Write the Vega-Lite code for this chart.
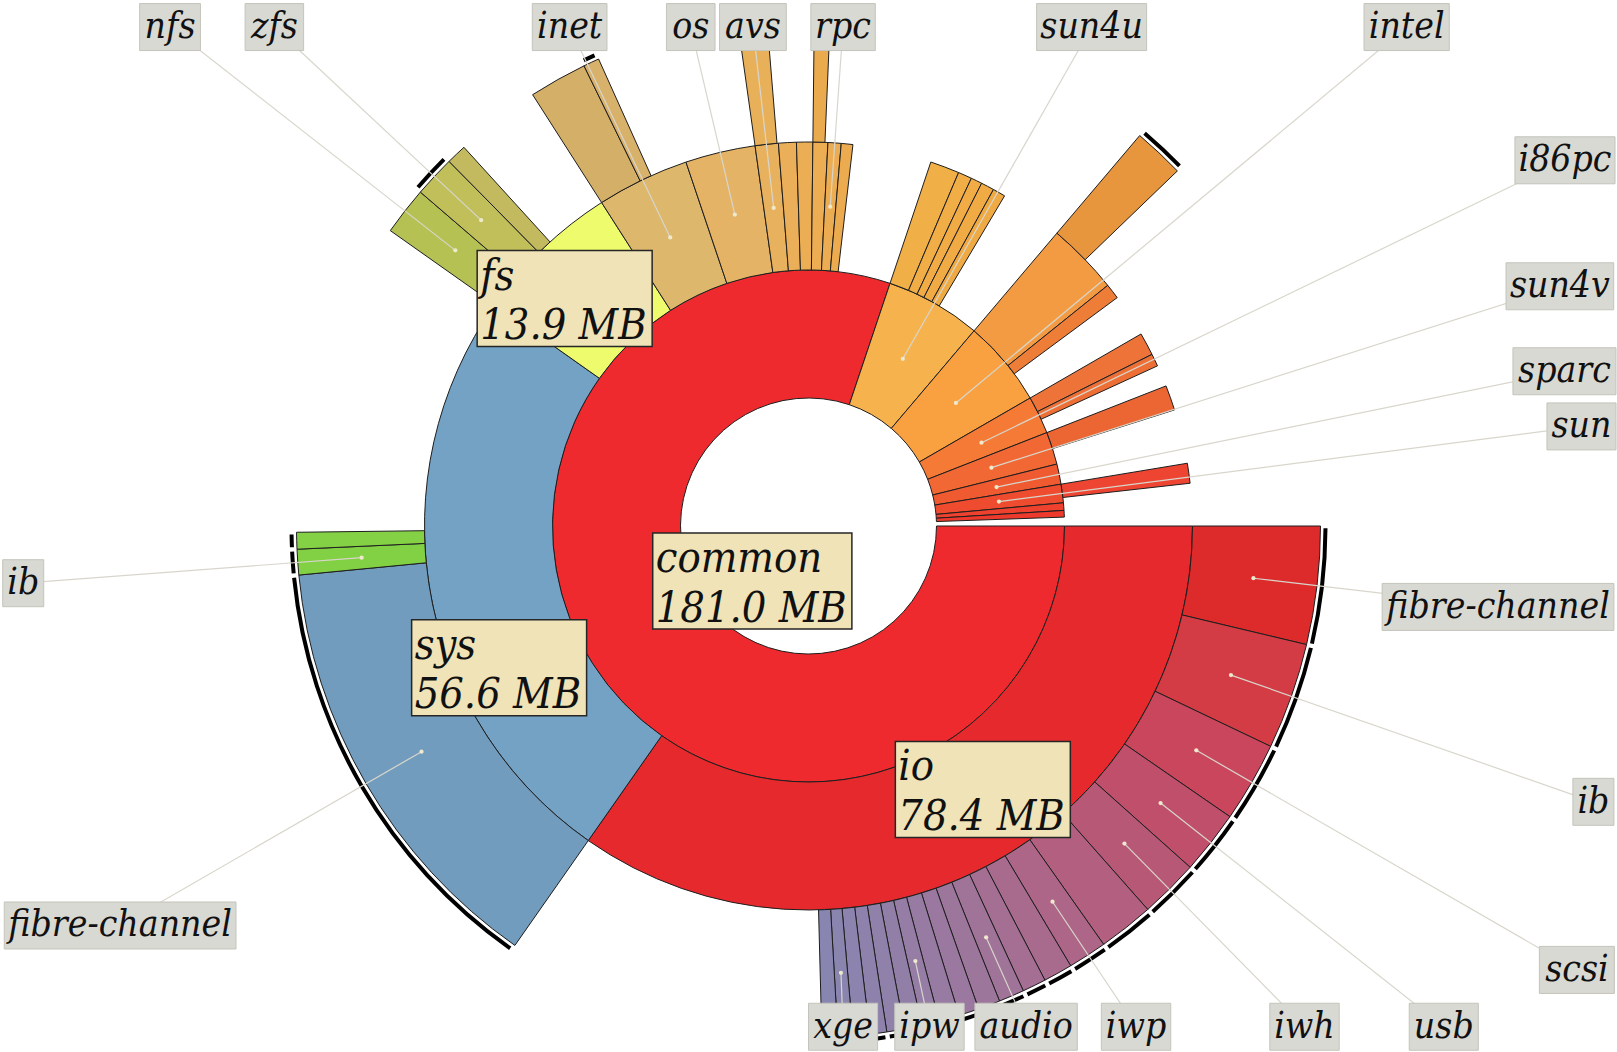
{
  "$schema": "https://vega.github.io/schema/vega-lite/v6.json",
  "width": 1617,
  "height": 1052,
  "autosize": {"type": "none"},
  "padding": 0,
  "background": "white",
  "config": {"view": {"stroke": null}},
  "datasets": {
    "seg": [
      {"id": "common", "depth": 1, "start": 0, "end": 181.0},
      {"id": "sun4u", "depth": 1, "start": 181.0, "end": 194.63},
      {"id": "intel", "depth": 1, "start": 194.63, "end": 206.98},
      {"id": "i86pc", "depth": 1, "start": 206.98, "end": 212.38},
      {"id": "sun4v", "depth": 1, "start": 212.38, "end": 217.02},
      {"id": "sparc", "depth": 1, "start": 217.02, "end": 219.90},
      {"id": "sun", "depth": 1, "start": 219.90, "end": 222.54},
      {"id": "uts/x1", "depth": 1, "start": 222.54, "end": 223.61},
      {"id": "uts/x2", "depth": 1, "start": 223.61, "end": 224.55},
      {"id": "io", "depth": 2, "start": 0, "end": 78.4},
      {"id": "sys", "depth": 2, "start": 78.4, "end": 135.0},
      {"id": "fs", "depth": 2, "start": 135.0, "end": 148.9},
      {"id": "inet", "depth": 2, "start": 148.9, "end": 157.68},
      {"id": "os", "depth": 2, "start": 157.68, "end": 164.33},
      {"id": "avs", "depth": 2, "start": 164.33, "end": 166.53},
      {"id": "common/c1", "depth": 2, "start": 166.53, "end": 168.22},
      {"id": "common/c2", "depth": 2, "start": 168.22, "end": 169.76},
      {"id": "common/c3", "depth": 2, "start": 169.76, "end": 171.17},
      {"id": "rpc", "depth": 2, "start": 171.17, "end": 172.42},
      {"id": "common/c4", "depth": 2, "start": 172.42, "end": 173.52},
      {"id": "sun4u/a", "depth": 2, "start": 181.0, "end": 183.78},
      {"id": "sun4u/b", "depth": 2, "start": 183.78, "end": 185.09},
      {"id": "sun4u/c", "depth": 2, "start": 185.09, "end": 186.16},
      {"id": "sun4u/d", "depth": 2, "start": 186.16, "end": 187.41},
      {"id": "sun4u/e", "depth": 2, "start": 187.41, "end": 188.61},
      {"id": "intel/a", "depth": 2, "start": 194.63, "end": 201.46},
      {"id": "intel/b", "depth": 2, "start": 201.46, "end": 202.91},
      {"id": "i86pc/a", "depth": 2, "start": 206.98, "end": 209.15},
      {"id": "i86pc/b", "depth": 2, "start": 209.15, "end": 210.34},
      {"id": "sun4v/a", "depth": 2, "start": 212.38, "end": 214.76},
      {"id": "sun/a", "depth": 2, "start": 219.90, "end": 221.79},
      {"id": "io/fc", "depth": 3, "start": 0, "end": 8.40, "more": 1},
      {"id": "io/ib", "depth": 3, "start": 8.40, "end": 15.99, "more": 1},
      {"id": "io/scsi", "depth": 3, "start": 15.99, "end": 21.70, "more": 1},
      {"id": "io/usb", "depth": 3, "start": 21.70, "end": 26.22, "more": 1},
      {"id": "io/iwh", "depth": 3, "start": 26.22, "end": 30.42, "more": 1},
      {"id": "io/u1", "depth": 3, "start": 30.42, "end": 34.37, "more": 1},
      {"id": "io/iwp", "depth": 3, "start": 34.37, "end": 37.13, "more": 1},
      {"id": "io/u2", "depth": 3, "start": 37.13, "end": 39.20, "more": 1},
      {"id": "io/u3", "depth": 3, "start": 39.20, "end": 40.89, "more": 1},
      {"id": "io/audio", "depth": 3, "start": 40.89, "end": 42.71, "more": 1},
      {"id": "io/u4", "depth": 3, "start": 42.71, "end": 44.28, "more": 1},
      {"id": "io/u5", "depth": 3, "start": 44.28, "end": 45.72, "more": 1},
      {"id": "io/u6", "depth": 3, "start": 45.72, "end": 47.17, "more": 1},
      {"id": "io/ipw", "depth": 3, "start": 47.17, "end": 48.42, "more": 1},
      {"id": "io/u7", "depth": 3, "start": 48.42, "end": 49.68, "more": 1},
      {"id": "io/u8", "depth": 3, "start": 49.68, "end": 50.93, "more": 1},
      {"id": "io/u9", "depth": 3, "start": 50.93, "end": 52.12, "more": 1},
      {"id": "io/u10", "depth": 3, "start": 52.12, "end": 53.31, "more": 1},
      {"id": "io/xge", "depth": 3, "start": 53.31, "end": 54.38, "more": 1},
      {"id": "io/u11", "depth": 3, "start": 54.38, "end": 55.51, "more": 1},
      {"id": "sys/fc", "depth": 3, "start": 78.4, "end": 109.45, "more": 1},
      {"id": "sys/ib", "depth": 3, "start": 109.45, "end": 111.27, "more": 1},
      {"id": "sys/ib2", "depth": 3, "start": 111.27, "end": 112.46, "more": 1},
      {"id": "fs/nfs", "depth": 3, "start": 135.0, "end": 138.43},
      {"id": "fs/zfs", "depth": 3, "start": 138.43, "end": 141.38, "more": 1},
      {"id": "fs/f3", "depth": 3, "start": 141.38, "end": 142.82},
      {"id": "inet/a", "depth": 3, "start": 148.9, "end": 153.04},
      {"id": "inet/b", "depth": 3, "start": 153.04, "end": 154.17, "more": 1},
      {"id": "avs/a", "depth": 3, "start": 164.33, "end": 166.40},
      {"id": "c3/a", "depth": 3, "start": 169.76, "end": 170.89},
      {"id": "intel/a/x", "depth": 3, "start": 194.63, "end": 198.26, "more": 1}
    ],
    "lab": [
      {"t": "nfs", "id": "fs/nfs", "lx": -4.988, "ly": 3.898},
      {"t": "zfs", "id": "fs/zfs", "lx": -4.173, "ly": 3.898},
      {"t": "inet", "id": "inet", "lx": -1.866, "ly": 3.898},
      {"t": "os", "id": "os", "lx": -0.920, "ly": 3.898},
      {"t": "avs", "id": "avs", "lx": -0.434, "ly": 3.898},
      {"t": "rpc", "id": "rpc", "lx": 0.270, "ly": 3.898},
      {"t": "sun4u", "id": "sun4u", "lx": 2.212, "ly": 3.898},
      {"t": "intel", "id": "intel", "lx": 4.673, "ly": 3.898},
      {"t": "i86pc", "id": "i86pc", "lx": 5.910, "ly": 2.857},
      {"t": "sun4v", "id": "sun4v", "lx": 5.870, "ly": 1.873},
      {"t": "sparc", "id": "sparc", "lx": 5.906, "ly": 1.209},
      {"t": "sun", "id": "sun", "lx": 6.039, "ly": 0.778},
      {"t": "fibre-channel", "id": "io/fc", "lx": 5.387, "ly": -0.632},
      {"t": "ib", "id": "io/ib", "lx": 6.132, "ly": -2.155},
      {"t": "scsi", "id": "io/scsi", "lx": 6.003, "ly": -3.468},
      {"t": "usb", "id": "io/usb", "lx": 4.963, "ly": -3.912},
      {"t": "iwh", "id": "io/iwh", "lx": 3.875, "ly": -3.912},
      {"t": "iwp", "id": "io/iwp", "lx": 2.559, "ly": -3.912},
      {"t": "audio", "id": "io/audio", "lx": 1.700, "ly": -3.912},
      {"t": "ipw", "id": "io/ipw", "lx": 0.945, "ly": -3.912},
      {"t": "xge", "id": "io/xge", "lx": 0.270, "ly": -3.912},
      {"t": "ib", "id": "sys/ib", "lx": -6.135, "ly": -0.447},
      {"t": "fibre-channel", "id": "sys/fc", "lx": -5.378, "ly": -3.121}
    ],
    "cen": [
      {"name": "common", "size": 181.0, "lx": -0.439, "ly": -0.430},
      {"name": "io", "size": 78.4, "lx": 1.362, "ly": -2.058},
      {"name": "sys", "size": 56.6, "lx": -2.417, "ly": -1.107},
      {"name": "fs", "size": 13.9, "lx": -1.905, "ly": 1.777}
    ]
  },
  "layer": [
    {
      "data": {"name": "seg"},
      "transform": [{"calculate": "datum.depth + 1", "as": "outer"}],
      "mark": {"type": "arc", "stroke": "#1e1e1e", "strokeWidth": 1},
      "encoding": {
        "theta": {"field": "start", "type": "quantitative", "stack": null, "scale": {"type": "linear", "domain": [0, 225.8], "range": [1.5707963, 7.8539816]}},
        "theta2": {"field": "end"},
        "radius": {"field": "depth", "type": "quantitative", "scale": {"type": "linear", "domain": [0, 4], "range": [0, 512], "zero": true}},
        "radius2": {"field": "outer"},
        "color": {
          "field": "id", "type": "nominal", "legend": null,
          "scale": {
            "domain": ["common","sun4u","intel","i86pc","sun4v","sparc","sun","uts/x1","uts/x2","io","sys","fs","inet","os","avs","common/c1","common/c2","common/c3","rpc","common/c4","sun4u/a","sun4u/b","sun4u/c","sun4u/d","sun4u/e","intel/a","intel/b","i86pc/a","i86pc/b","sun4v/a","sun/a","io/fc","io/ib","io/scsi","io/usb","io/iwh","io/u1","io/iwp","io/u2","io/u3","io/audio","io/u4","io/u5","io/u6","io/ipw","io/u7","io/u8","io/u9","io/u10","io/xge","io/u11","sys/fc","sys/ib","sys/ib2","fs/nfs","fs/zfs","fs/f3","inet/a","inet/b","avs/a","c3/a","intel/a/x"],
            "range": ["#EE2A2E","#F6B34D","#F9A041","#F47A36","#F26834","#F05A30","#EF4B2F","#EE422E","#EE3A2D","#E5292C","#74A2C4","#EEFB6C","#DDB76C","#E4B366","#E8B15D","#EAAF58","#EBAE55","#ECAD53","#ECAC51","#EDAB4F","#F1AF48","#F1AD46","#F1AC45","#F1AB44","#F0AA43","#F39B42","#EE7D38","#EE7338","#EE6F36","#EC6634","#EE4533","#DD2A2A","#D43C45","#C9465D","#C04F6C","#B85877","#B36080","#AD6688","#A86B8E","#A46F93","#A07398","#9D769C","#9A789F","#977BA2","#957DA5","#927FA8","#9081AA","#8E82AC","#8C84AE","#8A85AF","#8886B0","#729CBD","#82D043","#84D146","#B5C152","#C0BF5A","#C3B95F","#D4AF68","#D8B16B","#E9B05A","#EAAB4E","#E8963D"]
          }
        }
      }
    },
    {
      "data": {"name": "seg"},
      "transform": [
        {"filter": "datum.more == 1"},
        {"calculate": "datum.depth + 1 + 3/128", "as": "m0"},
        {"calculate": "datum.depth + 1 + 7/128", "as": "m1"}
      ],
      "mark": {"type": "arc", "color": "#000000", "padAngle": 0.006},
      "encoding": {
        "theta": {"field": "start", "type": "quantitative", "stack": null},
        "theta2": {"field": "end"},
        "radius": {"field": "m0", "type": "quantitative"},
        "radius2": {"field": "m1"}
      }
    },
    {
      "data": {"name": "lab"},
      "transform": [
        {"lookup": "id", "from": {"data": {"name": "seg"}, "key": "id", "fields": ["start", "end", "depth"]}},
        {"calculate": "PI/2 + (datum.start + datum.end) / 2 / 225.8 * 2 * PI", "as": "ang"},
        {"calculate": "(datum.depth + 0.5) * sin(datum.ang)", "as": "px"},
        {"calculate": "(datum.depth + 0.5) * cos(datum.ang)", "as": "py"}
      ],
      "mark": {"type": "rule", "color": "#d8d6cc", "strokeWidth": 1.2},
      "encoding": {
        "x": {"field": "lx", "type": "quantitative", "axis": null, "scale": {"domain": [-6.31640625, 6.31640625], "nice": false, "zero": false}},
        "y": {"field": "ly", "type": "quantitative", "axis": null, "scale": {"domain": [-4.109375, 4.109375], "nice": false, "zero": false}},
        "x2": {"field": "px"},
        "y2": {"field": "py"}
      }
    },
    {
      "data": {"name": "lab"},
      "transform": [
        {"lookup": "id", "from": {"data": {"name": "seg"}, "key": "id", "fields": ["start", "end", "depth"]}},
        {"calculate": "PI/2 + (datum.start + datum.end) / 2 / 225.8 * 2 * PI", "as": "ang"},
        {"calculate": "(datum.depth + 0.5) * sin(datum.ang)", "as": "px"},
        {"calculate": "(datum.depth + 0.5) * cos(datum.ang)", "as": "py"}
      ],
      "mark": {"type": "point", "filled": true, "color": "#eee8cc", "size": 18, "opacity": 1},
      "encoding": {
        "x": {"field": "px", "type": "quantitative"},
        "y": {"field": "py", "type": "quantitative"}
      }
    },
    {
      "data": {"name": "lab"},
      "transform": [
        {"calculate": "0.62*length(datum.t) - 0.30*length(replace(datum.t, regexp('[^ijl. ]','g'), '')) - 0.25*length(replace(datum.t, regexp('[^f]','g'), '')) - 0.22*length(replace(datum.t, regexp('[^t]','g'), '')) - 0.14*length(replace(datum.t, regexp('[^r]','g'), '')) - 0.28*length(replace(datum.t, regexp('[^-]','g'), '')) - 0.07*length(replace(datum.t, regexp('[^scxvyz]','g'), '')) + 0.24*length(replace(datum.t, regexp('[^w]','g'), '')) + 0.33*length(replace(datum.t, regexp('[^m]','g'), '')) + 0.38*length(replace(datum.t, regexp('[^M]','g'), '')) + 0.11*length(replace(datum.t, regexp('[^B]','g'), ''))", "as": "wem"},
        {"calculate": "33 * datum.wem + 10", "as": "w"},
        {"calculate": "datum.lx - datum.w / 256", "as": "bx0"},
        {"calculate": "datum.lx + datum.w / 256", "as": "bx1"},
        {"calculate": "datum.ly - 23.5 / 128", "as": "by0"},
        {"calculate": "datum.ly + 23.5 / 128", "as": "by1"}
      ],
      "mark": {"type": "rect", "fill": "#d9d9d3", "stroke": "#c4c4bc", "strokeWidth": 1},
      "encoding": {
        "x": {"field": "bx0", "type": "quantitative"},
        "x2": {"field": "bx1"},
        "y": {"field": "by0", "type": "quantitative"},
        "y2": {"field": "by1"}
      }
    },
    {
      "data": {"name": "lab"},
      "mark": {"type": "text", "align": "center", "baseline": "middle", "font": "DejaVu Serif Condensed, DejaVu Serif, serif", "fontStyle": "italic", "fontSize": 37, "color": "#111111"},
      "encoding": {
        "x": {"field": "lx", "type": "quantitative"},
        "y": {"field": "ly", "type": "quantitative"},
        "text": {"field": "t"}
      }
    },
    {
      "data": {"name": "cen"},
      "transform": [
        {"calculate": "datum.name", "as": "t1"},
        {"calculate": "format(datum.size, '.1f') + ' MB'", "as": "t2"},
        {"calculate": "0.62*length(datum.t1) - 0.30*length(replace(datum.t1, regexp('[^ijl. ]','g'), '')) - 0.25*length(replace(datum.t1, regexp('[^f]','g'), '')) - 0.22*length(replace(datum.t1, regexp('[^t]','g'), '')) - 0.14*length(replace(datum.t1, regexp('[^r]','g'), '')) - 0.07*length(replace(datum.t1, regexp('[^scxvyz]','g'), '')) + 0.24*length(replace(datum.t1, regexp('[^w]','g'), '')) + 0.33*length(replace(datum.t1, regexp('[^m]','g'), ''))", "as": "w1"},
        {"calculate": "0.62*length(datum.t2) - 0.30*length(replace(datum.t2, regexp('[^ijl. ]','g'), '')) + 0.38*length(replace(datum.t2, regexp('[^M]','g'), '')) + 0.11*length(replace(datum.t2, regexp('[^B]','g'), ''))", "as": "w2"},
        {"calculate": "39 * max(datum.w1, datum.w2) + 10", "as": "w"},
        {"calculate": "datum.lx - datum.w / 256", "as": "bx0"},
        {"calculate": "datum.lx + datum.w / 256", "as": "bx1"},
        {"calculate": "datum.ly - 48 / 128", "as": "by0"},
        {"calculate": "datum.ly + 48 / 128", "as": "by1"}
      ],
      "mark": {"type": "rect", "fill": "#efe3b7", "stroke": "#262626", "strokeWidth": 1.5},
      "encoding": {
        "x": {"field": "bx0", "type": "quantitative"},
        "x2": {"field": "bx1"},
        "y": {"field": "by0", "type": "quantitative"},
        "y2": {"field": "by1"}
      }
    },
    {
      "data": {"name": "cen"},
      "transform": [
        {"calculate": "datum.name + '|' + format(datum.size, '.1f') + ' MB'", "as": "txt"},
        {"calculate": "datum.name", "as": "t1"},
        {"calculate": "format(datum.size, '.1f') + ' MB'", "as": "t2"},
        {"calculate": "0.62*length(datum.t1) - 0.30*length(replace(datum.t1, regexp('[^ijl. ]','g'), '')) - 0.25*length(replace(datum.t1, regexp('[^f]','g'), '')) - 0.22*length(replace(datum.t1, regexp('[^t]','g'), '')) - 0.14*length(replace(datum.t1, regexp('[^r]','g'), '')) - 0.07*length(replace(datum.t1, regexp('[^scxvyz]','g'), '')) + 0.24*length(replace(datum.t1, regexp('[^w]','g'), '')) + 0.33*length(replace(datum.t1, regexp('[^m]','g'), ''))", "as": "w1"},
        {"calculate": "0.62*length(datum.t2) - 0.30*length(replace(datum.t2, regexp('[^ijl. ]','g'), '')) + 0.38*length(replace(datum.t2, regexp('[^M]','g'), '')) + 0.11*length(replace(datum.t2, regexp('[^B]','g'), ''))", "as": "w2"},
        {"calculate": "39 * max(datum.w1, datum.w2) + 10", "as": "w"},
        {"calculate": "datum.lx - datum.w / 256 + 3 / 128", "as": "tx"},
        {"calculate": "datum.ly + 9 / 128", "as": "ty"}
      ],
      "mark": {"type": "text", "align": "left", "baseline": "alphabetic", "lineBreak": "|", "lineHeight": 49.5, "font": "DejaVu Serif Condensed, DejaVu Serif, serif", "fontStyle": "italic", "fontSize": 43, "color": "#111111"},
      "encoding": {
        "x": {"field": "tx", "type": "quantitative"},
        "y": {"field": "ty", "type": "quantitative"},
        "text": {"field": "txt"}
      }
    }
  ]
}
